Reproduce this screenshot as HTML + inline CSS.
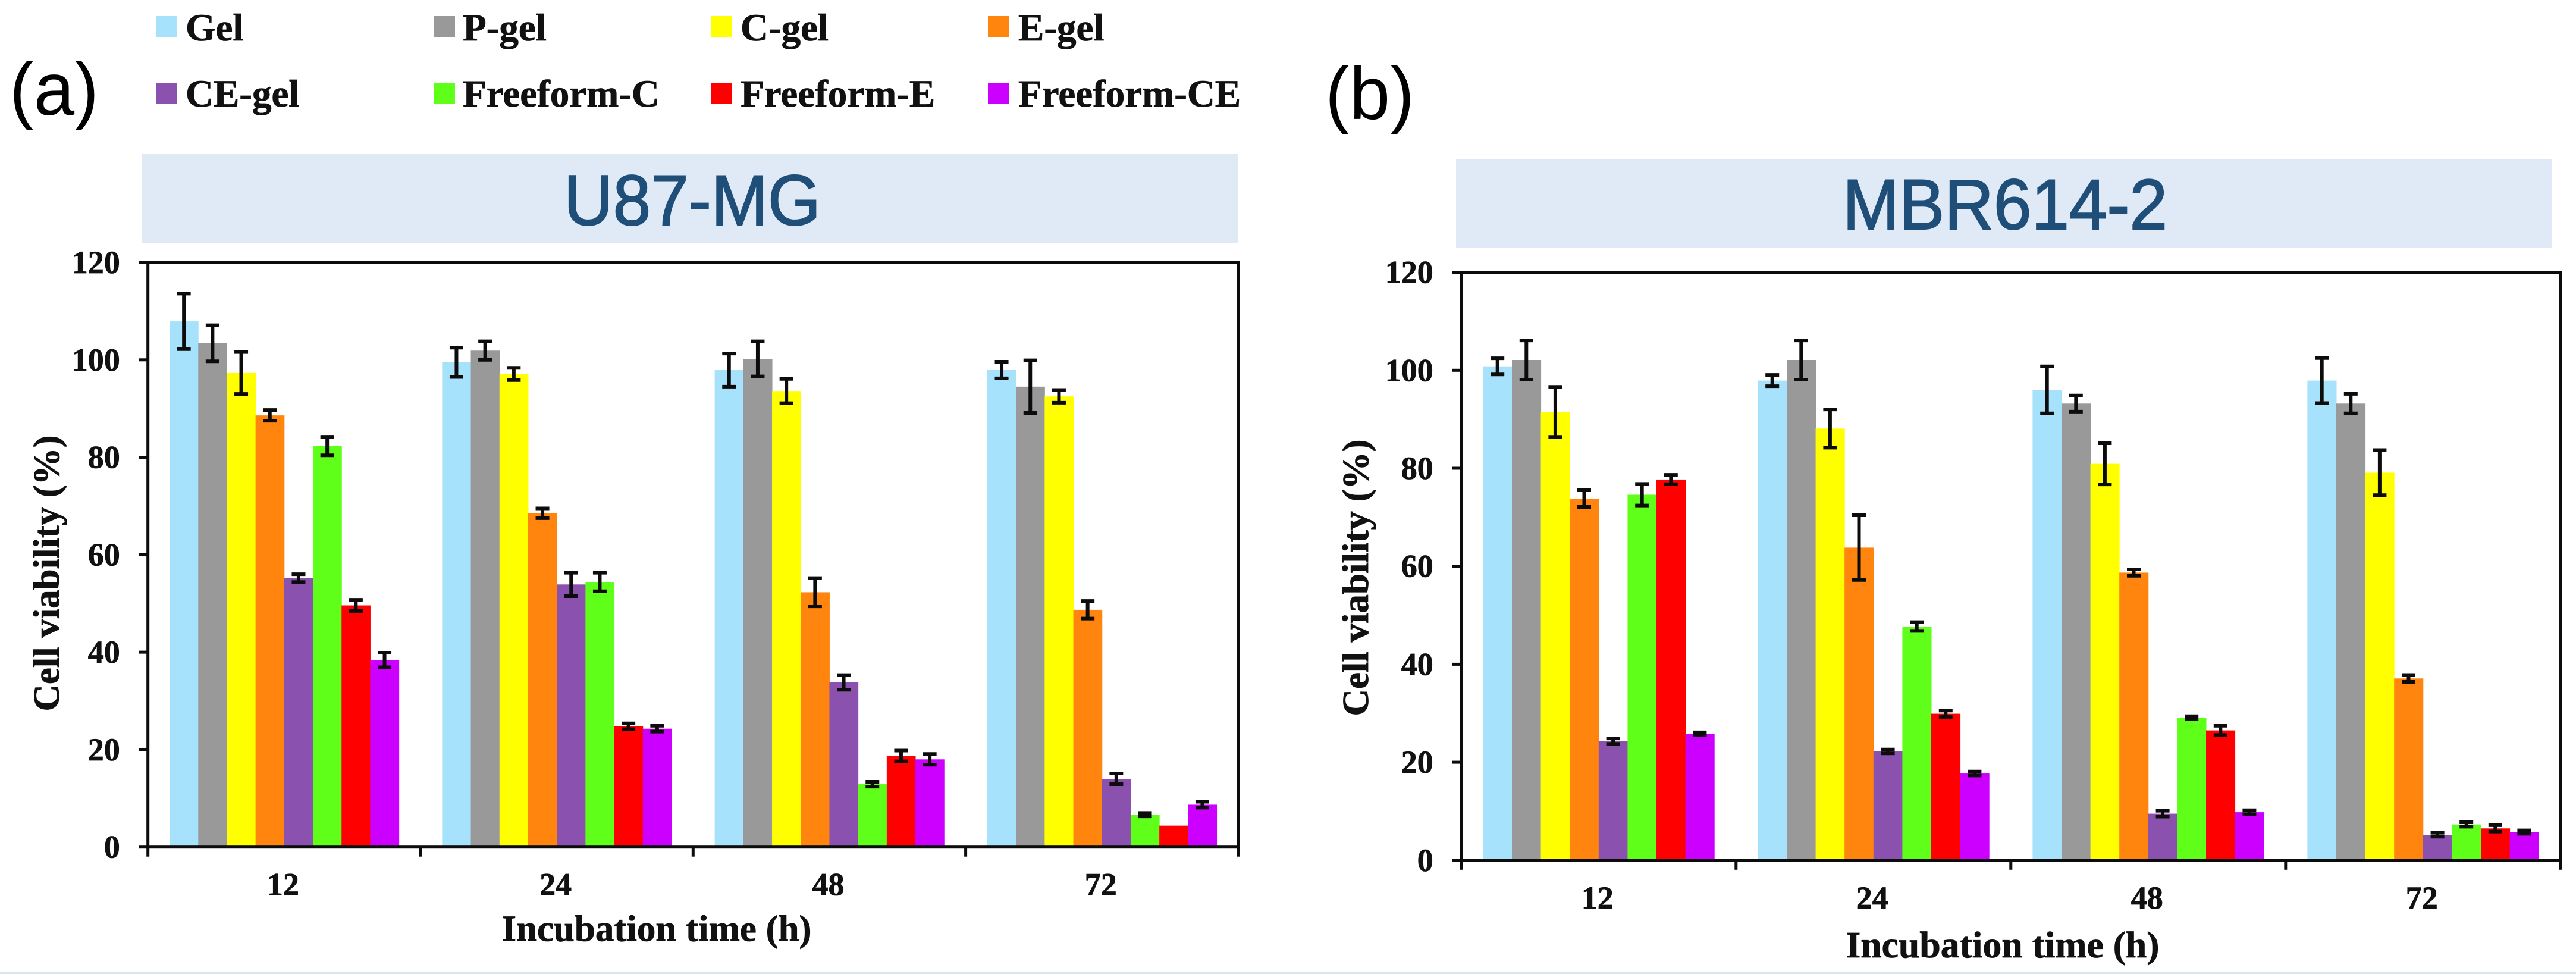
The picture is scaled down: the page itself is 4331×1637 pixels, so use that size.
<!DOCTYPE html>
<html lang="en">
<head>
<meta charset="utf-8">
<title>Cell viability of U87-MG and MBR614-2</title>
<style>
html,body{margin:0;padding:0;background:#fff;}
svg{display:block;}
.legend-text{font-family:"Liberation Serif",serif;font-weight:bold;font-size:65px;fill:#111;stroke:#111;stroke-width:0.8px;}
.panel-letter{font-family:"Liberation Sans",sans-serif;font-size:125px;fill:#000;}
.title-text{font-family:"Liberation Sans",sans-serif;font-size:120px;fill:#1f4e79;stroke:#1f4e79;stroke-width:2px;}
.tick-text{font-family:"Liberation Serif",serif;font-weight:bold;font-size:54px;fill:#111;stroke:#111;stroke-width:0.8px;}
.axis-title{font-family:"Liberation Serif",serif;font-weight:bold;font-size:62px;fill:#111;stroke:#111;stroke-width:0.8px;}
</style>
</head>
<body>
<svg id="figure" xmlns="http://www.w3.org/2000/svg" width="4331" height="1637" viewBox="0 0 4331 1637">
  <rect x="0" y="0" width="4331" height="1637" fill="#ffffff"/>
  <rect x="0" y="1633" width="4331" height="4" fill="#dde4ea"/>

  <g>
    <g><rect x="262" y="27" width="36" height="35" fill="#a6e2fb"/><text class="legend-text" x="312" y="68">Gel</text></g>
    <g><rect x="729" y="27" width="36" height="35" fill="#999999"/><text class="legend-text" x="778" y="68">P-gel</text></g>
    <g><rect x="1195" y="27" width="36" height="35" fill="#ffff00"/><text class="legend-text" x="1245" y="68">C-gel</text></g>
    <g><rect x="1661" y="27" width="36" height="35" fill="#ff850f"/><text class="legend-text" x="1712" y="68">E-gel</text></g>
    <g><rect x="262" y="140" width="36" height="35" fill="#8a52ae"/><text class="legend-text" x="312" y="179">CE-gel</text></g>
    <g><rect x="729" y="140" width="36" height="35" fill="#5fff1a"/><text class="legend-text" x="778" y="179">Freeform-C</text></g>
    <g><rect x="1195" y="140" width="36" height="35" fill="#ff0000"/><text class="legend-text" x="1245" y="179">Freeform-E</text></g>
    <g><rect x="1661" y="140" width="36" height="35" fill="#cc00ff"/><text class="legend-text" x="1712" y="179">Freeform-CE</text></g>
  </g>

  <text class="panel-letter" x="16" y="193" textLength="150" lengthAdjust="spacingAndGlyphs">(a)</text>
  <text class="panel-letter" x="2228" y="200" textLength="150" lengthAdjust="spacingAndGlyphs">(b)</text>

  <rect x="238" y="259" width="1843" height="150" fill="#dfeaf6"/>
  <text class="title-text" x="948" y="378" textLength="432" lengthAdjust="spacingAndGlyphs">U87-MG</text>
  <rect x="2448" y="268" width="1842" height="149" fill="#dfeaf6"/>
  <text class="title-text" x="3098" y="385" textLength="546" lengthAdjust="spacingAndGlyphs">MBR614-2</text>

  <g id="panel-a"></g>
  <g id="panel-b"></g>
</svg>

<script>
const categories = ["12", "24", "48", "72"];
const seriesNames = ["gel", "p-gel", "c-gel", "e-gel", "ce-gel", "freeform-c", "freeform-e", "freeform-ce"];
const seriesColors = ["#a6e2fb", "#999999", "#ffff00", "#ff850f", "#8a52ae", "#5fff1a", "#ff0000", "#cc00ff"];
const yTickLabels = [0, 20, 40, 60, 80, 100, 120];

const u87Values12h = [107.9, 103.4, 97.3, 88.6, 55.2, 82.3, 49.6, 38.4];
const u87Errors12h = [5.7, 3.7, 4.3, 1.1, 0.8, 1.9, 1.15, 1.5];
const u87Values24h = [99.5, 101.9, 97.1, 68.5, 53.9, 54.4, 24.8, 24.3];
const u87Errors24h = [3.0, 1.9, 1.25, 1.0, 2.4, 1.9, 0.6, 0.6];
const u87Values48h = [97.9, 100.2, 93.6, 52.3, 33.8, 12.9, 18.7, 18.0];
const u87Errors48h = [3.4, 3.6, 2.5, 2.9, 1.5, 0.5, 1.1, 1.1];
const u87Values72h = [97.9, 94.5, 92.5, 48.7, 14.0, 6.65, 4.4, 8.7];
const u87Errors72h = [1.7, 5.4, 1.3, 1.8, 1.1, 0.35, 0, 0.6];

const mbrValues12h = [100.8, 102.1, 91.5, 73.8, 24.3, 74.6, 77.7, 25.8];
const mbrErrors12h = [1.65, 4.0, 5.1, 1.7, 0.55, 2.2, 0.95, 0.3];
const mbrValues24h = [97.9, 102.1, 88.1, 63.8, 22.2, 47.7, 29.9, 17.7];
const mbrErrors24h = [1.15, 4.0, 3.9, 6.6, 0.4, 0.9, 0.65, 0.4];
const mbrValues48h = [96.0, 93.2, 80.9, 58.7, 9.5, 29.1, 26.5, 9.8];
const mbrErrors48h = [4.8, 1.65, 4.2, 0.65, 0.6, 0.3, 0.95, 0.4];
const mbrValues72h = [97.9, 93.2, 79.1, 37.1, 5.2, 7.3, 6.5, 5.75];
const mbrErrors72h = [4.6, 2.0, 4.6, 0.7, 0.4, 0.45, 0.65, 0.35];

const SVG_NS = "http://www.w3.org/2000/svg";

function shape(parent, tag, attrs, text) {
  const el = document.createElementNS(SVG_NS, tag);
  for (const key in attrs) {
    el.setAttribute(key, attrs[key]);
  }
  if (text !== undefined) {
    el.textContent = text;
  }
  parent.appendChild(el);
  return el;
}

function drawChart(root, geo, values, errors) {
  const yMax = 120;
  const plotRight = geo.left + geo.catWidth * categories.length;
  const yScale = function (v) {
    return geo.bottom - (v / yMax) * (geo.bottom - geo.top);
  };
  const groupLeft = function (c) {
    return geo.left + c * geo.catWidth + (geo.catWidth - geo.barWidth * seriesNames.length) / 2;
  };
  const barX = function (c, s) {
    return groupLeft(c) + s * geo.barWidth;
  };

  categories.forEach(function (cat, c) {
    seriesNames.forEach(function (name, s) {
      const v = values[c][s];
      const bar = shape(root, "rect", {
        x: barX(c, s),
        y: yScale(v),
        width: geo.barWidth + 0.5,
        height: geo.bottom - yScale(v),
        fill: seriesColors[s]
      });
      
      
    });
  });

  categories.forEach(function (cat, c) {
    seriesNames.forEach(function (name, s) {
      const v = values[c][s];
      const e = errors[c][s];
      if (e <= 0) {
        return;
      }
      const cx = barX(c, s) + geo.barWidth / 2;
      const err = shape(root, "path", {
        d: "M" + cx + " " + yScale(v + e) + "V" + yScale(v - e) +
           "M" + (cx - 11.5) + " " + yScale(v + e) + "h23" +
           "M" + (cx - 11.5) + " " + yScale(v - e) + "h23",
        fill: "none",
        stroke: "#0c0c0c",
        "stroke-width": 6
      });
      
      
    });
  });

  const frame = shape(root, "rect", {
    x: geo.left,
    y: geo.top,
    width: plotRight - geo.left,
    height: geo.bottom - geo.top,
    fill: "none",
    stroke: "#0c0c0c",
    "stroke-width": 5
  });
  
  

  yTickLabels.forEach(function (t) {
    const y = yScale(t);
    const tick = shape(root, "line", {
      x1: geo.left - 15,
      x2: geo.left,
      y1: y,
      y2: y,
      stroke: "#0c0c0c",
      "stroke-width": 5
    });
    
    
    const label = shape(root, "text", {
      "class": "tick-text",
      x: geo.left - 47,
      y: y + 18,
      "text-anchor": "end"
    }, String(t));
    
    
  });

  for (let i = 0; i <= categories.length; i++) {
    const x = geo.left + i * geo.catWidth;
    const tick = shape(root, "line", {
      x1: x,
      x2: x,
      y1: geo.bottom,
      y2: geo.bottom + 16,
      stroke: "#0c0c0c",
      "stroke-width": 5
    });
    
    
  }

  categories.forEach(function (cat, c) {
    const label = shape(root, "text", {
      "class": "tick-text",
      x: geo.left + (c + 0.5) * geo.catWidth - 2,
      y: geo.bottom + 81,
      "text-anchor": "middle"
    }, cat);
    
    
  });

  const yTitle = shape(root, "text", {
    "class": "axis-title",
    x: 0,
    y: 0,
    "text-anchor": "middle",
    textLength: geo.yTitleLength,
    lengthAdjust: "spacingAndGlyphs",
    transform: "translate(" + geo.yTitleX + " " + geo.yTitleY + ") rotate(-90)"
  }, "Cell viability (%)");
  
  

  const xTitle = shape(root, "text", {
    "class": "axis-title",
    x: geo.xTitleX,
    y: geo.xTitleY,
    "text-anchor": "middle",
    textLength: geo.xTitleLength,
    lengthAdjust: "spacingAndGlyphs"
  }, "Incubation time (h)");
  
  
}

drawChart(
  document.getElementById("panel-a"),
  { left: 248.7, top: 441, bottom: 1423.7, catWidth: 458.3, barWidth: 48.2,
    yTitleX: 99, yTitleY: 963.5, yTitleLength: 464,
    xTitleX: 1104, xTitleY: 1581.5, xTitleLength: 521 },
  [u87Values12h, u87Values24h, u87Values48h, u87Values72h],
  [u87Errors12h, u87Errors24h, u87Errors48h, u87Errors72h]
);

drawChart(
  document.getElementById("panel-b"),
  { left: 2456.8, top: 457.6, bottom: 1445.8, catWidth: 462, barWidth: 48.6,
    yTitleX: 2300, yTitleY: 971, yTitleLength: 465,
    xTitleX: 3367, xTitleY: 1609, xTitleLength: 527 },
  [mbrValues12h, mbrValues24h, mbrValues48h, mbrValues72h],
  [mbrErrors12h, mbrErrors24h, mbrErrors48h, mbrErrors72h]
);
</script>
</body>
</html>
